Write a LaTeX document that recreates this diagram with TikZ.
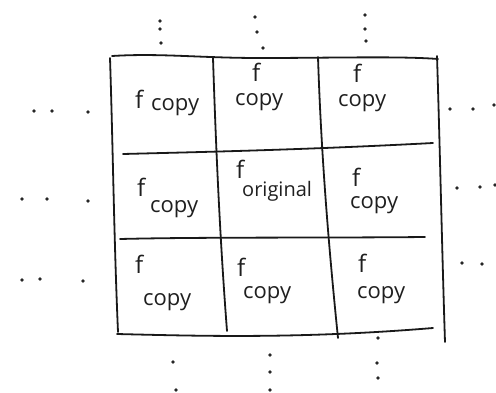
\documentclass[tikz,border=0pt]{standalone}
\usepackage{fontspec}
\setmainfont{Open Sans}
\begin{document}
\begin{tikzpicture}[x=1pt,y=-1pt,
  gridline/.style={line width=1.8pt,draw=black!90,line cap=round,line join=round},
  dotmark/.style={fill=black!85,draw=none},
  fl/.style={anchor=base west,inner sep=0pt,font=\fontsize{24}{24}\selectfont,text=black!88},
  cp/.style={anchor=base west,inner sep=0pt,font=\fontsize{22}{22}\selectfont,text=black!88},
  orig/.style={anchor=base west,inner sep=0pt,font=\fontsize{20}{20}\selectfont,text=black!88}]
\useasboundingbox (0,0) rectangle (496,392);
% grid
\draw[gridline] (112,56) .. controls (160,53) and (200,58) .. (260,58) .. controls (330,58) and (400,56) .. (438,59);
\draw[gridline] (110,58) .. controls (113,150) and (114,240) .. (118,332);
\draw[gridline] (437,56) .. controls (440,150) and (442,250) .. (445,342);
\draw[gridline] (123,154) .. controls (200,152) and (300,150) .. (433,143);
\draw[gridline] (120,239) .. controls (200,237) and (320,238) .. (425,237);
\draw[gridline] (117,334) .. controls (200,336) and (300,339) .. (433,328);
\draw[gridline] (213,58) .. controls (216,150) and (220,240) .. (227,331);
\draw[gridline] (318,57) .. controls (321,150) and (328,240) .. (338,338);
% texts
\node[fl] (f11) at (135,108) {f};
\node[cp] (c11) at (151,110) {copy};
\node[fl] (f12) at (252,81) {f};
\node[cp] (c12) at (235,105) {copy};
\node[fl] (f13) at (353,82) {f};
\node[cp] (c13) at (338,106) {copy};
\node[fl] (f21) at (137,196) {f};
\node[cp] (c21) at (150,212) {copy};
\node[fl] (f22) at (236,178) {f};
\node[orig] (o22) at (242,196) {original};
\node[fl] (f23) at (352,186) {f};
\node[cp] (c23) at (350,208) {copy};
\node[fl] (f31) at (135,273) {f};
\node[cp] (c31) at (143,305) {copy};
\node[fl] (f32) at (237,276) {f};
\node[cp] (c32) at (243,298) {copy};
\node[fl] (f33) at (358,272) {f};
\node[cp] (c33) at (357,298) {copy};
% dots top
\foreach \p in {(160,21),(160,29),(161,43),(255,17),(257,32),(263,48),(365,15),(365,29),(366,41)}
  \fill[dotmark] \p circle (1.8);
% dots bottom
\foreach \p in {(173,362),(176,390),(270,355),(270,372),(270,390),(378,338),(377,363),(378,378)}
  \fill[dotmark] \p circle (1.8);
% dots left
\foreach \p in {(34,111),(52,111),(88,112),(22,199),(47,199),(88,201),(22,280),(40,279),(83,281)}
  \fill[dotmark] \p circle (1.8);
% dots right
\foreach \p in {(450,109),(473,109),(494,105),(457,188),(480,187),(495,185),(462,263),(482,264)}
  \fill[dotmark] \p circle (1.8);
\end{tikzpicture}
\end{document}
